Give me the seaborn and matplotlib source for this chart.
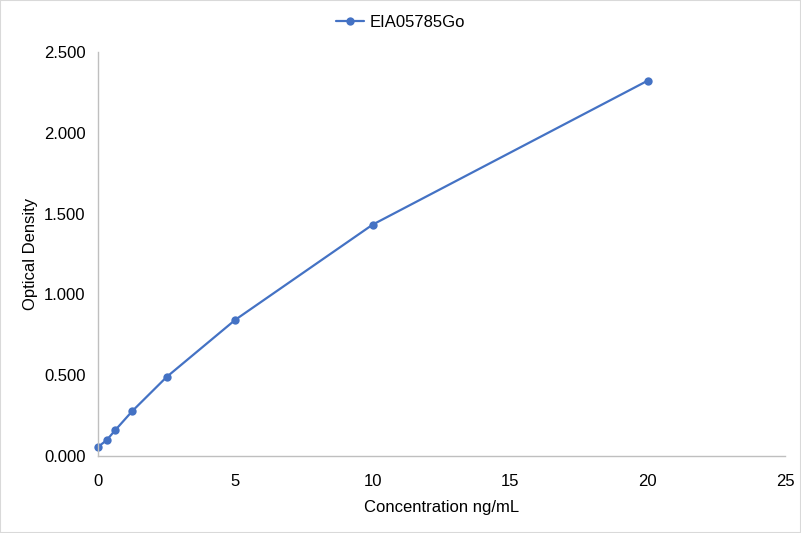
import matplotlib
matplotlib.use("Agg")
import matplotlib.pyplot as plt
import pandas as pd
import seaborn as sns

# standard curve values
concentration = [0, 0.3125, 0.625, 1.25, 2.5, 5, 10, 20]
optical_density = [0.056, 0.097, 0.159, 0.278, 0.489, 0.843, 1.432, 2.322]
series_name = "EIA05785Go"

df = pd.DataFrame({"Concentration ng/mL": concentration, "Optical Density": optical_density})
df["series"] = series_name

sns.set_theme(style="white")
plt.rcParams["font.family"] = ["Liberation Sans", "DejaVu Sans"]

fig = plt.figure(figsize=(8.01, 5.33), dpi=100)
ax = fig.add_axes([0.1223, 0.1445, 0.8577, 0.758])

sns.lineplot(
    data=df,
    x="Concentration ng/mL",
    y="Optical Density",
    hue="series",
    palette=["#4472C4"],
    marker="o",
    markersize=6,
    markeredgewidth=0,
    linewidth=1.6,
    clip_on=False,
    ax=ax,
)

ax.set_xlim(0, 25)
ax.set_ylim(0, 2.5)
ax.set_xticks([0, 5, 10, 15, 20, 25])
ax.set_yticks([0, 0.5, 1.0, 1.5, 2.0, 2.5])
ax.yaxis.set_major_formatter(matplotlib.ticker.FormatStrFormatter("%.3f"))
ax.tick_params(axis="both", length=0, labelsize=12, colors="#000000")
ax.tick_params(axis="x", pad=13)
ax.tick_params(axis="y", pad=9)

for side in ["top", "right"]:
    ax.spines[side].set_visible(False)
for side in ["left", "bottom"]:
    ax.spines[side].set_color("#BFBFBF")
    ax.spines[side].set_linewidth(1)

ax.set_xlabel("Concentration ng/mL", fontsize=12, color="#000000", labelpad=8)
ax.set_ylabel("Optical Density", fontsize=12, color="#000000", labelpad=4)

# legend sits at the centre of the whole chart, not the plot area
leg = ax.legend(
    loc="upper center",
    bbox_to_anchor=(0.5, 1.0),
    bbox_transform=fig.transFigure,
    frameon=False,
    fontsize=12,
    handlelength=1.7,
    handletextpad=0.35,
)
for t in leg.get_texts():
    t.set_color("#000000")

# light frame around the whole chart
fig.patches.append(
    plt.Rectangle((0, 0), 1, 1, transform=fig.transFigure, fill=False,
                  edgecolor="#D9D9D9", linewidth=1.5)
)

fig.savefig("out.png", dpi=100)
